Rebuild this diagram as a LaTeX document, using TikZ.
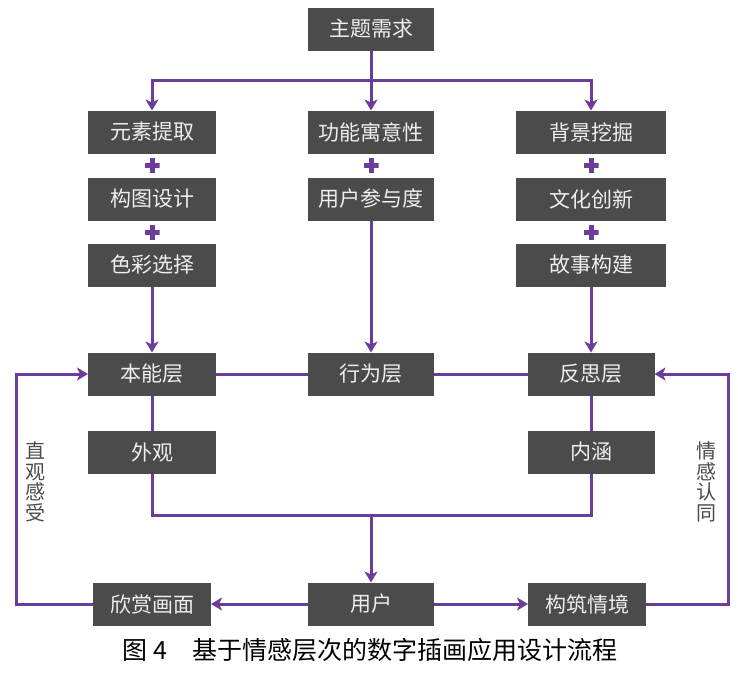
\documentclass[tikz,border=0pt]{standalone}
\usepackage{fontspec}
\setmainfont{Noto Sans CJK SC}
\usetikzlibrary{arrows.meta, positioning}
\definecolor{cbox}{HTML}{4B4B4B}
\definecolor{cpurple}{HTML}{6A3D9A}
\definecolor{clight}{HTML}{EEEEEE}
\tikzset{
  every picture/.style={line width=3pt},
  box/.style={fill=cbox, text=clight, minimum width=#1, minimum height=43pt, inner sep=2pt, outer sep=0pt, font=\fontsize{21}{21}\selectfont},
  box/.default=127pt,
  arrow/.style={-{Stealth[length=11pt, width=13pt, inset=3pt]}, draw=cpurple, line width=3pt},
  link/.style={draw=cpurple, line width=3pt},
  plus/.style={minimum size=15pt, inner sep=0pt, outer sep=0pt, path picture={
    \draw[cpurple, line width=5pt] (path picture bounding box.north) -- (path picture bounding box.south)
      (path picture bounding box.west) -- (path picture bounding box.east);}},
  note/.style={text=cbox, align=center, font=\fontsize{20}{20.5}\selectfont},
  caption/.style={font=\fontsize{25}{25}\selectfont},
}

\begin{document}
\begin{tikzpicture}
  \useasboundingbox (0,0) rectangle (738pt,-673pt);
  \node[box=126pt] (theme) at (371pt,-29pt) {主题需求};
  % three sources
  \node[box=126pt, below=60pt of theme] (func) {功能寓意性};
  \node[box=128pt, left=92pt of func] (elem) {元素提取};
  \node[box=150pt, right=82pt of func] (bg) {背景挖掘};
  \node[box=128pt, below=24pt of elem] (comp) {构图设计};
  \node[box=126pt, below=24pt of func] (part) {用户参与度};
  \node[box=150pt, below=24pt of bg] (culture) {文化创新};
  \node[box=128pt, below=23pt of comp] (color) {色彩选择};
  \node[box=150pt, below=23pt of culture] (story) {故事构建};
  \node[plus, below=4.5pt of elem] (plusA) {};
  \node[plus, below=4pt of comp] (plusB) {};
  \node[plus, below=4.5pt of func] (plusC) {};
  \node[plus, below=4.5pt of bg] (plusD) {};
  \node[plus, below=4pt of culture] (plusE) {};
  % three levels
  \node[box=128pt, below=66pt of color] (instinct) {本能层};
  \node[box=126pt, right=92pt of instinct] (behav) {行为层};
  \node[box=127pt, below=66pt of story] (reflect) {反思层};
  \node[box=128pt, below=35pt of instinct] (look) {外观};
  \node[box=127pt, below=35pt of reflect] (meaning) {内涵};
  % user
  \node[box=126pt, below=187pt of behav] (user) {用户};
  \node[box=118pt, left=97pt of user] (enjoy) {欣赏画面};
  \node[box=118pt, right=94pt of user] (scene) {构筑情境};
  \coordinate (split) at ([yshift=-30pt]theme.south);
  \coordinate (merge) at ([yshift=-42pt]look.south -| user.north);
  \draw[arrow] (theme) -- (func);
  \draw[arrow] (split) -| (elem);
  \draw[arrow] (split) -| (bg);
  \draw[arrow] (color) -- (instinct);
  \draw[arrow] (part) -- (behav);
  \draw[arrow] (story) -- (reflect);
  \draw[link] (instinct) -- (behav);
  \draw[link] (behav) -- (reflect);
  \draw[link] (instinct) -- (look);
  \draw[link] (reflect) -- (meaning);
  \draw[link] (look) |- (merge) -| (meaning);
  \draw[arrow] (merge) -- (user);
  \draw[arrow] (user) -- (enjoy);
  \draw[arrow] (user) -- (scene);
  \draw[arrow] (enjoy.west) -- ++(-77pt,0) |- (instinct.west);
  \draw[arrow] (scene.east) -- ++(82pt,0) |- (reflect.east);
  \node[note] (intuit) at (35pt,-482pt) {直\\观\\感\\受};
  \node[note] (identity) at (706pt,-482pt) {情\\感\\认\\同};
  \node[caption] (cap) at (370pt,-650pt) {图 4\quad 基于情感层次的数字插画应用设计流程};
\end{tikzpicture}
\end{document}
